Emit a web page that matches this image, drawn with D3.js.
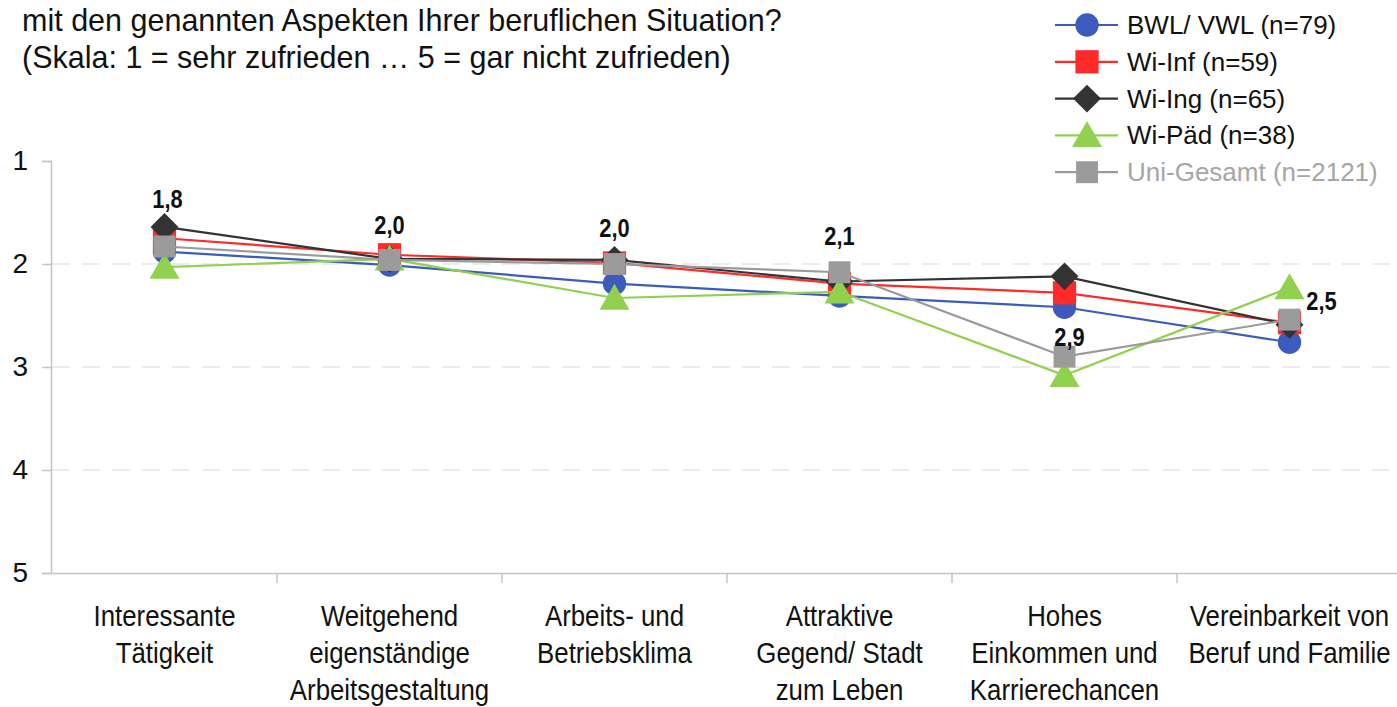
<!DOCTYPE html>
<html>
<head>
<meta charset="utf-8">
<script src="https://cdn.jsdelivr.net/npm/d3@7"></script>
<style>
  body { margin: 0; background: #fff; }
  text { font-family: "Liberation Sans", Arial, sans-serif; }
</style>
</head>
<body>
<script>
var width = 1397;
var height = 707;

// data
var categories = [
  ["Interessante", "Tätigkeit"],
  ["Weitgehend", "eigenständige", "Arbeitsgestaltung"],
  ["Arbeits- und", "Betriebsklima"],
  ["Attraktive", "Gegend/ Stadt", "zum Leben"],
  ["Hohes", "Einkommen und", "Karrierechancen"],
  ["Vereinbarkeit von", "Beruf und Familie"]
];
var seriesNames = ["BWL/ VWL (n=79)", "Wi-Inf (n=59)", "Wi-Ing (n=65)", "Wi-Päd (n=38)", "Uni-Gesamt (n=2121)"];
var bwlVwl    = [1.88, 2.01, 2.19, 2.31, 2.42, 2.76];
var wiInf     = [1.75, 1.91, 1.99, 2.19, 2.28, 2.57];
var wiIng     = [1.64, 1.95, 1.96, 2.17, 2.12, 2.59];
var wiPaed    = [2.03, 1.95, 2.33, 2.27, 3.08, 2.23];
var uniGesamt = [1.83, 1.96, 2.00, 2.08, 2.90, 2.54];
var yTicks = [1, 2, 3, 4, 5];
var titleLines = [
  "mit den genannten Aspekten Ihrer beruflichen Situation?",
  "(Skala: 1 = sehr zufrieden … 5 = gar nicht zufrieden)"
];

// styling
var colours = ["#3c5bbd", "#ff2a2a", "#333333", "#92d050", "#9b9b9b"];
var symbols = [d3.symbolCircle, d3.symbolSquare, d3.symbolSquare, d3.symbolTriangle, d3.symbolSquare];
var rotations = [0, 0, 45, 0, 0];
var symbolSizes = [430, 540, 390, 390, 480];
var labelOffsets = [[3, -48], [0, -35], [0, -36], [0, -36], [5, -20], [32, -19]];

var svg = d3.select("body").append("svg")
            .attr("width", width)
            .attr("height", height);

var x = d3.scaleBand()
          .domain(d3.range(categories.length))
          .range([52, 1402]);

var y = d3.scaleLinear()
          .domain([1, 5])
          .range([161, 573]);

// title
svg.append("g").selectAll("text")
   .data(titleLines)
   .enter()
   .append("text")
   .attr("x", 22)
   .attr("y", function(d, i) { return 31 + i * 37; })
   .attr("font-size", 30.5)
   .attr("fill", "#111")
   .text(function(d) { return d; });

// grid
svg.append("g").selectAll("line")
   .data([2, 3, 4])
   .enter()
   .append("line")
   .attr("x1", 52).attr("x2", width)
   .attr("y1", function(d) { return y(d); })
   .attr("y2", function(d) { return y(d); })
   .attr("stroke", "#e6e6e6")
   .attr("stroke-width", 1.5)
   .attr("stroke-dasharray", "18,12");

// y axis
var yAxis = d3.axisLeft(y)
    .tickValues(yTicks)
    .tickSize(9)
    .tickPadding(14)
    .tickFormat(d3.format("d"));
var gy = svg.append("g")
   .attr("transform", "translate(51,0)")
   .call(yAxis);
gy.select(".domain").attr("stroke", "#c4c4c4").attr("stroke-width", 1.5);
gy.selectAll(".tick line").attr("stroke", "#c4c4c4").attr("stroke-width", 1.5);
gy.selectAll(".tick text")
  .attr("font-size", 28)
  .attr("font-family", "Liberation Sans, Arial, sans-serif")
  .attr("fill", "#111");

// x axis
var xAxis = d3.axisBottom(x).tickSize(0).tickFormat("");
var gx = svg.append("g")
   .attr("transform", "translate(0," + y(5) + ")")
   .call(xAxis);
gx.select(".domain").attr("stroke", "#c4c4c4").attr("stroke-width", 1.5);
gx.selectAll(".tick").remove();
gx.selectAll("line.bound")
  .data(d3.range(1, categories.length))
  .enter()
  .append("line")
  .attr("class", "bound")
  .attr("x1", function(d) { return x(d); })
  .attr("x2", function(d) { return x(d); })
  .attr("y1", 0).attr("y2", 10)
  .attr("stroke", "#c4c4c4")
  .attr("stroke-width", 1.5);

// category labels, squeezed a little to look like the narrow face
var xl = svg.append("g").selectAll("text")
   .data(categories)
   .enter()
   .append("text")
   .attr("text-anchor", "middle")
   .attr("font-size", 29)
   .attr("fill", "#111")
   .attr("transform", function(d, i) { return "translate(" + (x(i) + x.bandwidth() / 2) + ",0) scale(0.89,1)"; });
xl.selectAll("tspan")
  .data(function(d) { return d; })
  .enter()
  .append("tspan")
  .attr("x", 0)
  .attr("y", function(d, j) { return 626 + j * 37; })
  .text(function(d) { return d; });

// series
var allSeries = [bwlVwl, wiInf, wiIng, wiPaed, uniGesamt];
var cx = function(d, i) { return x(i) + x.bandwidth() / 2; };
var line = d3.line()
    .x(cx)
    .y(function(d) { return y(d); });

allSeries.forEach(function(values, s) {
  var g = svg.append("g").attr("class", "series");
  g.append("path")
   .datum(values)
   .attr("d", line)
   .attr("fill", "none")
   .attr("stroke", colours[s])
   .attr("stroke-width", 2.2);
  g.selectAll("path.marker")
   .data(values)
   .enter()
   .append("path")
   .attr("class", "marker")
   .attr("d", d3.symbol().type(symbols[s]).size(symbolSizes[s]))
   .attr("transform", function(d, i) {
      var off = symbols[s] === d3.symbolTriangle ? 3 : 0;
      return "translate(" + cx(d, i) + "," + (y(d) + off) + ") rotate(" + rotations[s] + ")";
   })
   .attr("fill", colours[s]);
});

// data labels (Uni-Gesamt)
var fmt = function(v) { return d3.format(".1f")(v).replace(".", ","); };
svg.append("g").selectAll("text")
   .data(uniGesamt)
   .enter()
   .append("text")
   .attr("text-anchor", "middle")
   .attr("dominant-baseline", "central")
   .attr("font-size", 26)
   .attr("font-weight", "bold")
   .attr("fill", "#111")
   .attr("transform", function(d, i) {
      return "translate(" + (cx(d, i) + labelOffsets[i][0]) + "," + (y(d) + labelOffsets[i][1]) + ") scale(0.84,1)";
   })
   .text(fmt);

// legend
var legend = svg.append("g")
   .attr("class", "legend")
   .attr("transform", "translate(1055,25)");
var lg = legend.selectAll("g")
   .data(seriesNames)
   .enter()
   .append("g")
   .attr("transform", function(d, i) { return "translate(0," + (i * 36.8) + ")"; });
lg.append("line")
  .attr("x1", 0).attr("x2", 63)
  .attr("y1", 0).attr("y2", 0)
  .attr("stroke", function(d, i) { return colours[i]; })
  .attr("stroke-width", 2.2);
lg.append("path")
  .attr("d", function(d, i) { return d3.symbol().type(symbols[i]).size(symbolSizes[i])(); })
  .attr("transform", function(d, i) {
     return "translate(32," + (symbols[i] === d3.symbolTriangle ? 3 : 0) + ") rotate(" + rotations[i] + ")";
  })
  .attr("fill", function(d, i) { return colours[i]; });
lg.append("text")
  .attr("x", 72)
  .attr("y", 0)
  .attr("dominant-baseline", "central")
  .attr("font-size", 26)
  .attr("fill", function(d, i) { return i == 4 ? "#a6a6a6" : "#111"; })
  .text(function(d) { return d; });
</script>
</body>
</html>
